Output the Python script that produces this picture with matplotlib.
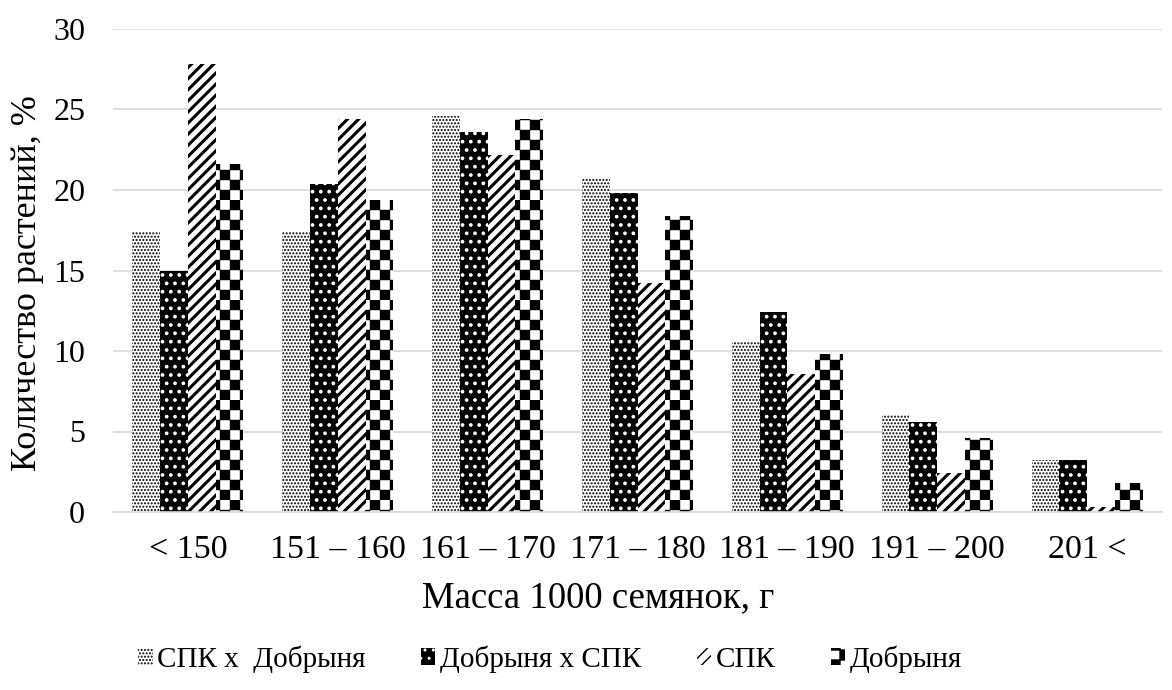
import matplotlib
matplotlib.use("Agg")
import matplotlib.pyplot as plt
import matplotlib.hatch as mhatch
from matplotlib.path import Path
import numpy as np

categories = ["< 150", "151 – 160", "161 – 170", "171 – 180", "181 – 190", "191 – 200", "201 <"]
series_names = ["СПК х  Добрыня", "Добрыня х СПК", "СПК", "Добрыня"]
spk_x_dob = [17.4, 17.4, 24.6, 20.7, 10.6, 6.0, 3.2]
dob_x_spk = [15.0, 20.4, 23.6, 19.8, 12.4, 5.6, 3.2]
spk = [27.8, 24.4, 22.2, 14.2, 8.6, 2.4, 0.3]
dob = [21.6, 19.4, 24.4, 18.4, 9.8, 4.6, 1.8]
y_ticks = [0, 5, 10, 15, 20, 25, 30]


class CheckerHatch(mhatch.HatchPatternBase):
    """Checkerboard fill pattern, used for hatch character '*'."""
    filled = True

    def __init__(self, hatch, density):
        self.n = hatch.count('*') * 10
        if self.n > 0:
            cells = sum(1 for i in range(self.n) for j in range(self.n) if (i + j) % 2 == 0)
            self.num_vertices = cells * 5
        else:
            self.num_vertices = 0

    def set_vertices_and_codes(self, vertices, codes):
        s = 1.0 / self.n
        k = 0
        for i in range(self.n):
            for j in range(self.n):
                if (i + j) % 2:
                    continue
                x0, y0 = i * s, j * s
                vertices[k:k + 5] = [[x0, y0], [x0 + s, y0], [x0 + s, y0 + s], [x0, y0 + s], [x0, y0]]
                codes[k] = Path.MOVETO
                codes[k + 1:k + 4] = Path.LINETO
                codes[k + 4] = Path.CLOSEPOLY
                k += 5


mhatch._hatch_types = [h for h in mhatch._hatch_types if h is not mhatch.Stars] + [CheckerHatch]

plt.rcParams['font.family'] = ['Liberation Serif', 'DejaVu Serif']

fig = plt.figure(figsize=(11.72, 6.9), dpi=100)
ax = fig.add_axes([113/1172, 1-512/690, (1162-113)/1172, (512-29)/690])

x = np.arange(len(categories))
w = 0.185
styles = [
    dict(facecolor='white', edgecolor='black', hatch='.....', hlw=1.0),
    dict(facecolor='black', edgecolor='white', hatch='..', hlw=1.5),
    dict(facecolor='white', edgecolor='black', hatch='///', hlw=2.2),
    dict(facecolor='white', edgecolor='black', hatch='*', hlw=0.3),
]
data = [spk_x_dob, dob_x_spk, spk, dob]
handles = []
for i, (vals, st, name) in enumerate(zip(data, styles, series_names)):
    with plt.rc_context({'hatch.linewidth': st['hlw'], 'hatch.color': st['edgecolor']}):
        bars = ax.bar(x + (i - 1.5) * w, vals, width=w, facecolor=st['facecolor'],
                      edgecolor=st['edgecolor'], hatch=st['hatch'], linewidth=0,
                      label=name, zorder=3)
    handles.append(bars)

ax.set_xlim(-0.5, len(categories) - 0.5)
ax.set_ylim(0, 30)
ax.set_yticks(y_ticks)
ax.set_xticks(x)
ax.set_xticklabels(categories)
ax.tick_params(axis='y', length=0, labelsize=23, pad=20)
ax.tick_params(axis='x', length=0, labelsize=24.5, pad=16)
ax.grid(axis='y', color='#d9d9d9', linewidth=1.2, zorder=0)
for s in ['top', 'right', 'left']:
    ax.spines[s].set_visible(False)
ax.spines['bottom'].set_color('#d9d9d9')
ax.spines['bottom'].set_linewidth(1.2)
ax.spines['bottom'].set_zorder(4)

ax.set_ylabel("Количество растений, %", fontsize=26)
ax.set_xlabel("Масса 1000 семянок, г", fontsize=26.5)
ax.yaxis.set_label_coords(-(113 - 28) / 1049, (512 - 283) / 483)
ax.xaxis.set_label_coords((598 - 113) / 1049, -(598 - 512) / 483)
ax.xaxis.label.set_verticalalignment('center')
ax.yaxis.label.set_verticalalignment('center')

fig.legend(handles=handles, labels=series_names, loc='center', bbox_to_anchor=(550/1172, 1-659/690),
           ncol=4, frameon=False, fontsize=21, handlelength=0.5, handleheight=0.5,
           handletextpad=0.15, columnspacing=1.9)

fig.savefig("out.png", dpi=100)
